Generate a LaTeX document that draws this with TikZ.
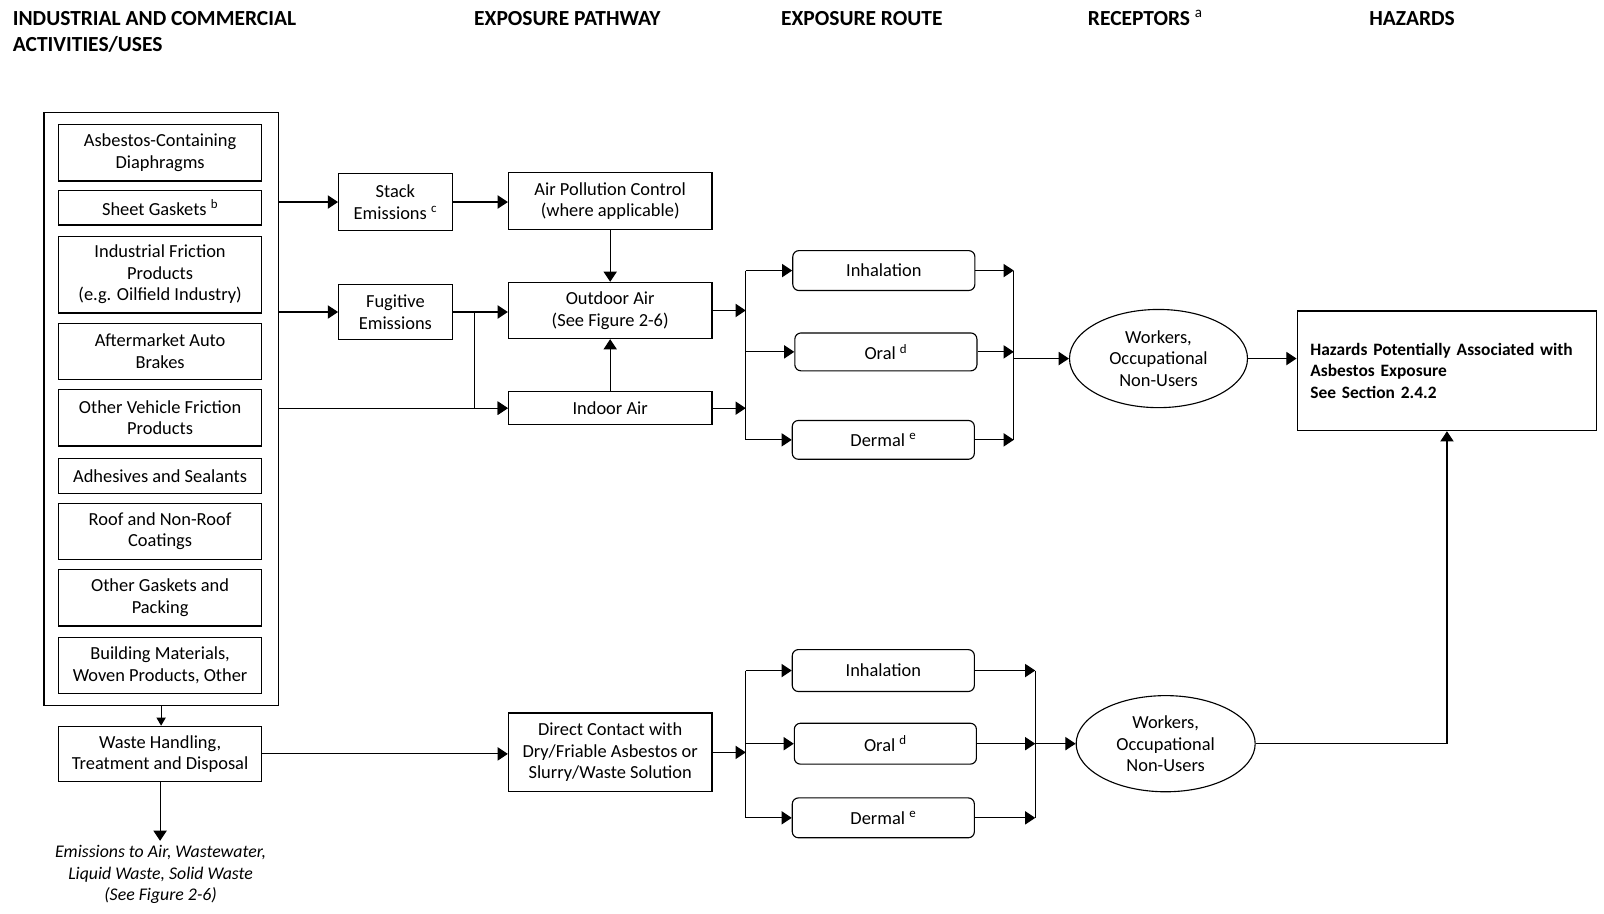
\documentclass[tikz,border=0pt]{standalone}
\usepackage{fontspec}
\setmainfont{Carlito}
\usetikzlibrary{arrows.meta,shapes.geometric}

\begin{document}
\begin{tikzpicture}[x=1pt,y=-1pt,
  line width=1.1pt,
  txt/.style={font=\fontsize{18}{21}\selectfont, align=center, inner sep=0pt},
  hdr/.style={font=\fontsize{21}{25}\selectfont\bfseries, inner sep=0pt, anchor=base west},
  item/.style={draw, txt, minimum width=199pt},
  smallbox/.style={draw, txt, minimum width=111pt},
  route/.style={draw, txt, rounded corners=6pt, minimum width=178pt},
  recv/.style={draw, ellipse, txt, minimum width=174pt, minimum height=96pt},
  hazbox/.style={draw, font=\fontsize{17}{21}\selectfont\bfseries, align=left,
                 text width=267pt, inner sep=13pt, minimum height=117pt},
  note/.style={font=\fontsize{17.4}{21}\selectfont\itshape, align=center, inner sep=4pt},
  arr/.style={-{Triangle[length=10pt,width=13pt]}},
  arrs/.style={-{Triangle[length=8pt,width=9pt]}},
]
\useasboundingbox (0,0) rectangle (1568,893);

% column headings
\node[hdr, anchor=north west, align=left] (h1) at (12,11) {INDUSTRIAL AND COMMERCIAL\\ACTIVITIES/USES};
\node[hdr] (h2) at (463,24.5) {EXPOSURE PATHWAY};
\node[hdr] (h3) at (763,24.5) {EXPOSURE ROUTE};
\node[hdr] (h4) at (1063,24.5) {RECEPTORS \textsuperscript{\mdseries a}};
\node[hdr] (h5) at (1338,24.5) {HAZARDS};

% activities / uses
\node[draw, minimum width=229pt, minimum height=580pt, inner sep=0pt] (uses) at (157.5,400) {};
\node[item, minimum height=55pt] (dia)  at (156.5,149.5) {Asbestos-Containing\\Diaphragms};
\node[item, minimum height=34pt] (sheet) at (156.5,203) {Sheet Gaskets \textsuperscript{b}};
\node[item, minimum height=75pt] (ifric) at (156.5,268.5) {Industrial Friction\\Products\\(e.g. Oilfield Industry)};
\node[item, minimum height=55pt] (after) at (156.5,343.5) {Aftermarket Auto\\Brakes};
\node[item, minimum height=55pt] (ovfric) at (156.5,408.5) {Other Vehicle Friction\\Products};
\node[item, minimum height=34pt] (adh) at (156.5,465) {Adhesives and Sealants};
\node[item, minimum height=55pt] (roof) at (156.5,519.5) {Roof and Non-Roof\\Coatings};
\node[item, minimum height=55pt] (ogask) at (156.5,584.5) {Other Gaskets and\\Packing};
\node[item, minimum height=55pt] (bldg) at (156.5,650.5) {Building Materials,\\Woven Products, Other};

\node[item, minimum height=54pt] (waste) at (156.5,737) {Waste Handling,\\Treatment and Disposal};
\node[note] (emis) at (157,855) {Emissions to Air, Wastewater,\\Liquid Waste, Solid Waste\\(See Figure 2-6)};

% exposure pathway
\node[smallbox, minimum height=55pt] (stack) at (386.5,197.5) {Stack\\Emissions \textsuperscript{c}};
\node[smallbox, minimum height=54pt] (fug) at (386.5,305) {Fugitive\\Emissions};
\node[item, minimum height=55pt] (apc) at (596.5,196.5) {Air Pollution Control\\(where applicable)};
\node[item, minimum height=55pt] (outdoor) at (596.5,303.5) {Outdoor Air\\(See Figure 2-6)};
\node[item, minimum height=32pt] (indoor) at (596.5,399) {Indoor Air};
\node[item, minimum height=77pt] (direct) at (596.5,735.5) {Direct Contact with\\Dry/Friable Asbestos or\\Slurry/Waste Solution};

% exposure routes
\node[route, minimum height=39pt] (inh1) at (864,264.5) {Inhalation};
\node[route, minimum height=37pt] (ora1) at (866,344) {Oral \textsuperscript{d}};
\node[route, minimum height=38pt] (der1) at (863.5,430) {Dermal \textsuperscript{e}};
\node[route, minimum height=41pt] (inh2) at (863.5,655.5) {Inhalation};
\node[route, minimum height=40pt] (ora2) at (865.5,727) {Oral \textsuperscript{d}};
\node[route, minimum height=39pt] (der2) at (863.5,799.5) {Dermal \textsuperscript{e}};

% receptors
\node[recv] (rec1) at (1132.5,350.5) {Workers,\\Occupational\\Non-Users};
\node[recv, minimum width=175pt, minimum height=94pt] (rec2) at (1139.5,727) {Workers,\\Occupational\\Non-Users};

% hazards
\node[hazbox] (haz) at (1414.5,362.5) {Hazards Potentially Associated with\\Asbestos Exposure\\See Section 2.4.2};

% x positions of the collecting lines
\coordinate (xa) at (729,0);
\coordinate (xb) at (991,0);
\coordinate (xc) at (1012,0);

% upper flows
\draw[arr] (stack -| uses.east) -- (stack.west);
\draw[arr] (stack.east) -- (stack.east -| apc.west);
\draw[arr] (fug -| uses.east) -- (fug.west);
\draw[arr] (fug.east) -- (fug.east -| outdoor.west);
\draw[arr] (fug.east) -- ++(21,0) |- (indoor.west);
\draw[arr] (indoor -| uses.east) -- (indoor.west);
\draw[arr] (apc) -- (outdoor);
\draw[arr] (indoor) -- (outdoor);
\draw[arr] (outdoor.east) -- (outdoor.east -| xa);
\draw[arr] (indoor.east) -- (indoor.east -| xa);
\draw (inh1.west -| xa) -- (der1.west -| xa);
\foreach \n in {inh1,ora1,der1} {
  \draw[arr] (\n.west -| xa) -- (\n.west);
  \draw[arr] (\n.east) -- (\n.east -| xb);
}
\draw (inh1.east -| xb) -- (der1.east -| xb);
\draw[arr] (rec1.west -| xb) -- (rec1.west);
\draw[arr] (rec1.east) -- (rec1.east -| haz.west);

% lower flows
\draw[arrs] (uses.south) -- (uses.south |- waste.north);
\draw[arr] (waste.south) -- (waste.south |- emis.north);
\draw[arr] (waste.east) -- (waste.east -| direct.west);
\draw[arr] (direct.east) -- (direct.east -| xa);
\draw (inh2.west -| xa) -- (der2.west -| xa);
\foreach \n in {inh2,ora2,der2} {
  \draw[arr] (\n.west -| xa) -- (\n.west);
  \draw[arr] (\n.east) -- (\n.east -| xc);
}
\draw (inh2.east -| xc) -- (der2.east -| xc);
\draw[arr] (rec2.west -| xc) -- (rec2.west);
\draw[arr] (rec2.east) -| (haz.south);
\end{tikzpicture}
\end{document}
